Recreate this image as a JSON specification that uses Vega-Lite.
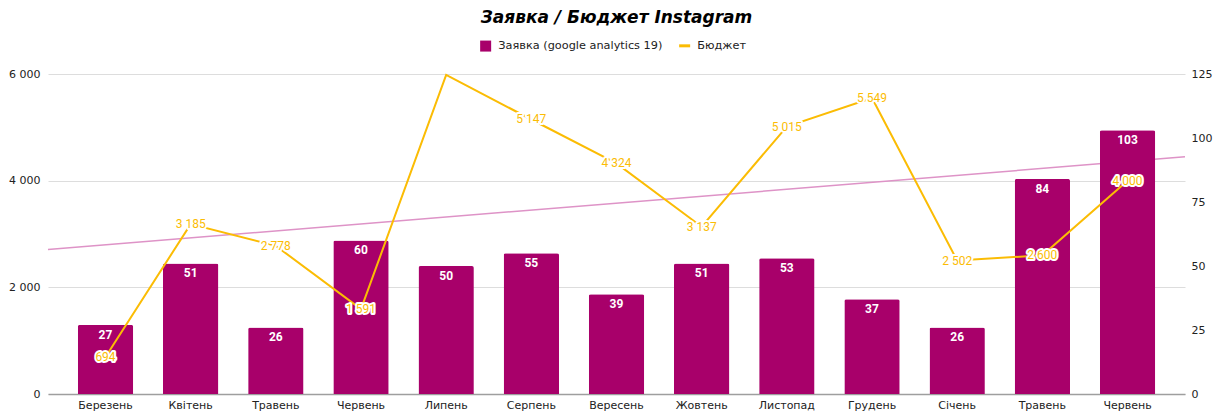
{
  "$schema": "https://vega.github.io/schema/vega-lite/v6.json",
  "autosize": "none",
  "width": 1137,
  "height": 320,
  "padding": {"left": 48, "top": 74, "right": 39, "bottom": 23},
  "background": "white",
  "config": {
    "view": {"stroke": null},
    "locale": {"number": {"decimal": ",", "thousands": " ", "grouping": [3], "currency": ["", ""]}},
    "axis": {"labelFont": "DejaVu Sans", "labelFontSize": 11, "labelColor": "#222222", "ticks": false, "title": null, "domain": false}
  },
  "title": {
    "text": "Заявка / Бюджет Instagram",
    "font": "DejaVu Sans",
    "fontSize": 17,
    "fontWeight": "bold",
    "fontStyle": "italic",
    "color": "#000000",
    "anchor": "middle",
    "offset": 13
  },
  "datasets": {
    "main": [
      {"month": "Березень", "leads": 27, "budget": 694},
      {"month": "Квітень", "leads": 51, "budget": 3185},
      {"month": "Травень", "leads": 26, "budget": 2778},
      {"month": "Червень", "leads": 60, "budget": 1591},
      {"month": "Липень", "leads": 50, "budget": 5985},
      {"month": "Серпень", "leads": 55, "budget": 5147},
      {"month": "Вересень", "leads": 39, "budget": 4324},
      {"month": "Жовтень", "leads": 51, "budget": 3137},
      {"month": "Листопад", "leads": 53, "budget": 5015},
      {"month": "Грудень", "leads": 37, "budget": 5549},
      {"month": "Січень", "leads": 26, "budget": 2502},
      {"month": "Травень ", "leads": 84, "budget": 2600},
      {"month": "Червень ", "leads": 103, "budget": 4000}
    ],
    "trend": [
      {"t": 0, "v": 2708},
      {"t": 1, "v": 4448}
    ]
  },
  "layer": [
    {
      "data": {"name": "trend"},
      "mark": {"type": "line", "color": "#DE93C7", "strokeWidth": 1.5},
      "encoding": {
        "x": {"field": "t", "type": "quantitative", "scale": {"domain": [0, 1], "nice": false, "zero": false}, "axis": null},
        "y": {"field": "v", "type": "quantitative", "scale": {"domain": [0, 6000], "nice": false}, "axis": null}
      }
    },
    {
      "data": {"name": "main"},
      "encoding": {
        "x": {
          "field": "month", "type": "nominal", "sort": null,
          "scale": {"type": "band", "paddingInner": 0.35, "paddingOuter": 0.35},
          "axis": {"labelAngle": 0, "domain": true, "domainColor": "#9e9e9e", "domainWidth": 1.5, "labelPadding": 5}
        }
      },
      "layer": [
        {
          "mark": {"type": "bar", "cornerRadiusTopLeft": 2, "cornerRadiusTopRight": 2},
          "encoding": {
            "y": {"field": "leads", "type": "quantitative", "scale": {"domain": [0, 125], "nice": false},
              "axis": {"orient": "right", "values": [0, 25, 50, 75, 100, 125], "grid": false, "labelPadding": 6}},
            "color": {
              "datum": "Заявка (google analytics 19)", "type": "nominal",
              "scale": {"domain": ["Заявка (google analytics 19)", "Бюджет"], "range": ["#A8006A", "#FBBC04"]},
              "legend": {
                "title": null, "orient": "none", "direction": "horizontal", "legendX": 432, "legendY": -34,
                "labelFont": "DejaVu Sans", "labelFontSize": 11.3, "labelColor": "#222222", "columnPadding": 10,
                "symbolSize": 121, "labelOffset": 7, "labelLimit": 400,
                "encode": {
                  "symbols": {
                    "update": {
                      "shape": {"signal": "datum.value === 'Бюджет' ? 'stroke' : 'square'"},
                      "fill": {"signal": "datum.value === 'Бюджет' ? 'transparent' : '#A8006A'"},
                      "stroke": {"signal": "datum.value === 'Бюджет' ? '#FBBC04' : 'transparent'"},
                      "strokeWidth": {"signal": "datum.value === 'Бюджет' ? 3 : 0"}
                    }
                  }
                }
              }
            }
          }
        },
        {
          "mark": {"type": "text", "baseline": "top", "dy": 5, "color": "white", "font": "Roboto", "fontWeight": "bold", "fontSize": 12},
          "encoding": {
            "y": {"field": "leads", "type": "quantitative", "scale": {"domain": [0, 125], "nice": false}, "axis": null},
            "text": {"field": "leads", "type": "quantitative"}
          }
        },
        {
          "mark": {"type": "line", "strokeWidth": 2},
          "encoding": {
            "y": {"field": "budget", "type": "quantitative", "scale": {"domain": [0, 6000], "nice": false},
              "axis": {"orient": "left", "values": [0, 2000, 4000, 6000], "format": ",d", "grid": true, "gridColor": "#dddddd", "labelPadding": 8}},
            "color": {"datum": "Бюджет", "type": "nominal"}
          }
        },
        {
          "transform": [{"filter": "datum.month !== 'Липень'"}],
          "mark": {"type": "text", "font": "Roboto", "fontSize": 12, "stroke": "white", "strokeWidth": 4, "strokeJoin": "round", "color": "white"},
          "encoding": {
            "y": {"field": "budget", "type": "quantitative", "scale": {"domain": [0, 6000], "nice": false}, "axis": null},
            "text": {"field": "budget", "type": "quantitative", "format": ",d"}
          }
        },
        {
          "transform": [{"filter": "datum.month !== 'Липень'"}],
          "mark": {"type": "text", "font": "Roboto", "fontSize": 12, "color": "#FBBC04"},
          "encoding": {
            "y": {"field": "budget", "type": "quantitative", "scale": {"domain": [0, 6000], "nice": false}, "axis": null},
            "text": {"field": "budget", "type": "quantitative", "format": ",d"}
          }
        }
      ],
      "resolve": {"scale": {"y": "independent"}}
    }
  ],
  "resolve": {"scale": {"x": "independent", "y": "independent"}}
}
